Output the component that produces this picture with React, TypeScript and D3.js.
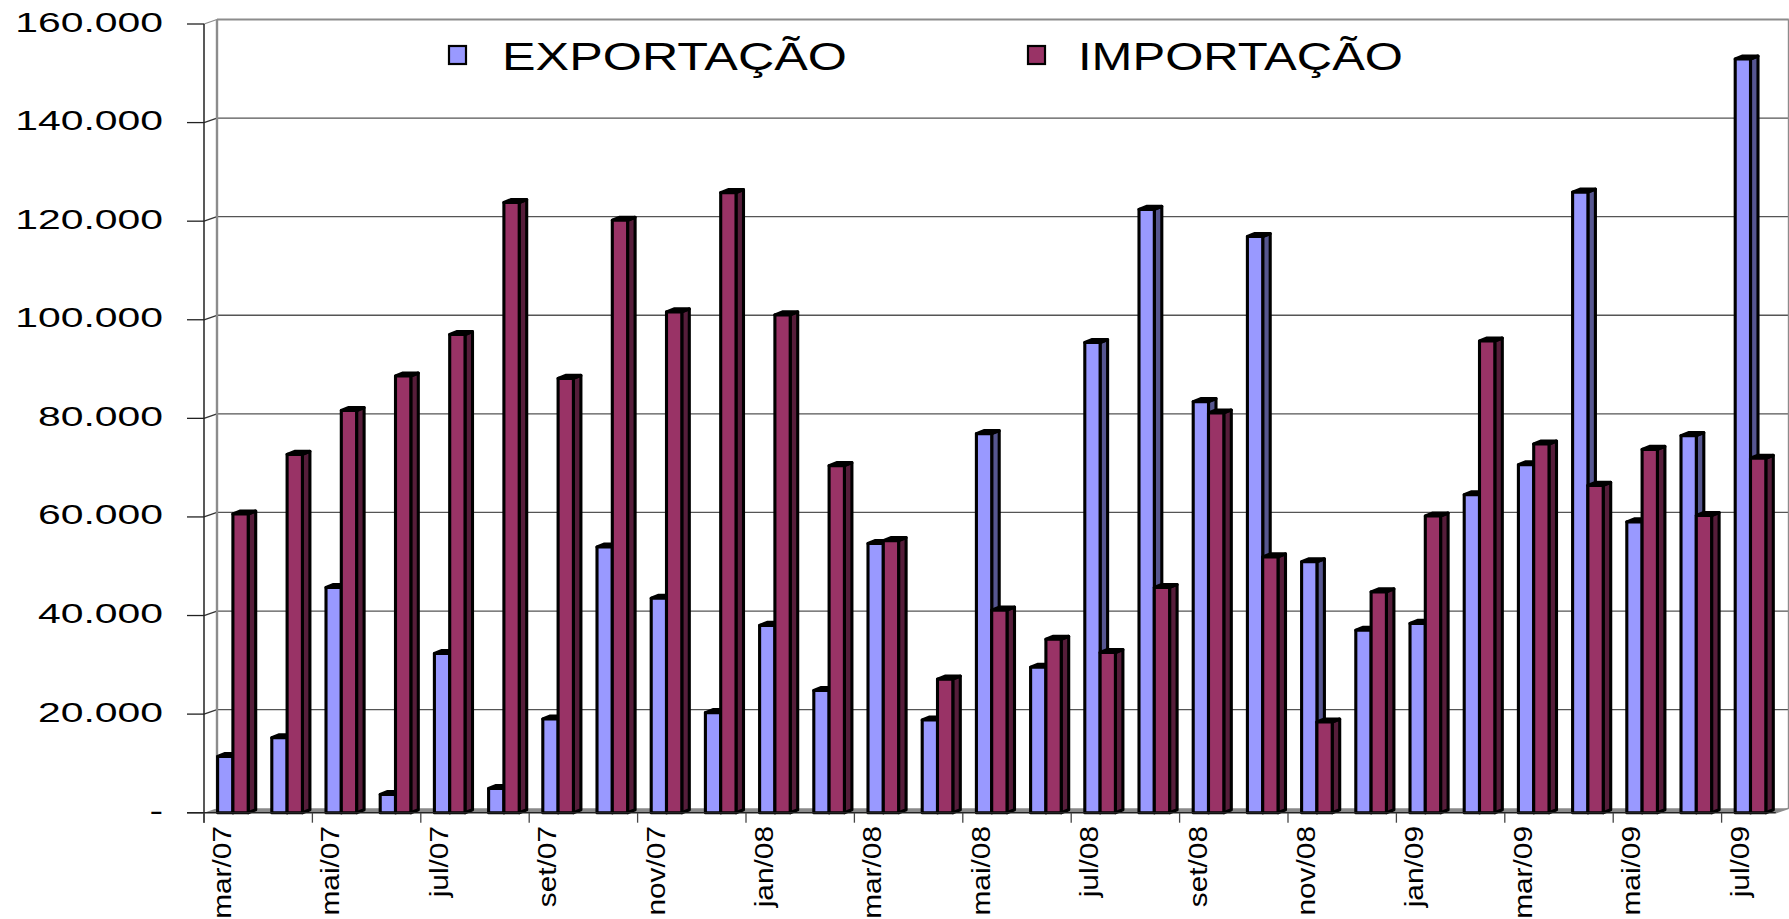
import React from "react";
import * as d3 from "d3";

const months = ["mar/07","abr/07","mai/07","jun/07","jul/07","ago/07","set/07","out/07","nov/07","dez/07","jan/08","fev/08","mar/08","abr/08","mai/08","jun/08","jul/08","ago/08","set/08","out/08","nov/08","dez/08","jan/09","fev/09","mar/09","abr/09","mai/09","jun/09","jul/09"];
const exportacao = [11400,15200,45700,3700,32300,4900,19000,53900,43500,20300,38000,24800,54600,18800,76900,29500,95400,122400,83400,116900,50900,37000,38400,64500,70600,125900,59000,76500,152900];
const importacao = [60600,72700,81600,88600,97000,123800,88100,120200,101600,125800,101000,70400,55200,27100,41100,35200,32500,45700,81100,51900,18400,44800,60200,95700,74800,66400,73700,60300,71900];
const yTicks = [0,20000,40000,60000,80000,100000,120000,140000,160000];
const yTickLabels = ["-","20.000","40.000","60.000","80.000","100.000","120.000","140.000","160.000"];
const seriesNames = ["EXPORTAÇÃO","IMPORTAÇÃO"];
const seriesColors = ["#9999FF","#993366"];

const W = 1789, H = 919;
const X0 = 204, X1 = 1775.8;
const Y0 = 812.7, Ytop = 24;
const WDX = 13, WDY = -4.5; // wall depth
const BDX = 7.5, BDY = -3; // bar depth
const FONT = "'Liberation Sans', Arial, sans-serif";

export default function App() {
  const y = d3.scaleLinear().domain([0, 160000]).range([Y0, Ytop]);
  const x = d3.scaleBand().domain(months).range([X0, X1]).paddingInner(0).paddingOuter(0);
  const bw = x.bandwidth();
  const inner = d3.scaleBand().domain(["0","1"]).range([0.251 * bw, 0.251 * bw + 30.6]).padding(0);

  const bar = (xl: number, w: number, v: number, color: string, key: string) => {
    const yt = y(v);
    const side = d3.color(color)!.darker(1.6).toString();
    const top = d3.color(color)!.darker(0.45).toString();
    const xr = xl + w;
    return (
      <g key={key} stroke="#000" strokeWidth={3.1} strokeLinejoin="round">
        <path d={`M${xr},${Y0}L${xr + BDX},${Y0 + BDY}L${xr + BDX},${yt + BDY}L${xr},${yt}Z`} fill={side} />
        <path d={`M${xl},${yt}L${xl + BDX},${yt + BDY}L${xr + BDX},${yt + BDY}L${xr},${yt}Z`} fill={top} />
        <rect x={xl} y={yt} width={w} height={Y0 - yt} fill={color} />
      </g>
    );
  };

  const labelTicks = months.map((m, i) => ({ m, i })).filter(d => d.i % 2 === 0);

  return (
    <svg width={W} height={H} style={{ position: "absolute", left: 0, top: 0, background: "#fff" }} fontFamily={FONT}>
      {/* floor */}
      <path d={`M${X0},${Y0}L${X0 + WDX},${Y0 + WDY}L${X1 + WDX},${Y0 + WDY}L${X1},${Y0}Z`} fill="#8a8a8a" />
      {/* back wall gridlines */}
      {yTicks.slice(1).map((t, i) => (
        <g key={"g" + i}>
          <line x1={X0 + WDX} x2={X1 + WDX} y1={y(t) + WDY} y2={y(t) + WDY}
            stroke={t === 160000 ? "#8c8c8c" : "#555"} strokeWidth={t === 160000 ? 2.2 : 1.3} />
          <line x1={X0} x2={X0 + WDX} y1={y(t)} y2={y(t) + WDY} stroke={t === 160000 ? "#8c8c8c" : "#333"} strokeWidth={1.3} />
        </g>
      ))}
      {/* back wall left & right edges */}
      <line x1={X0 + WDX} x2={X0 + WDX} y1={Ytop + WDY} y2={Y0 + WDY} stroke="#8c8c8c" strokeWidth={2.4} />
      <line x1={X1 + WDX} x2={X1 + WDX} y1={Ytop + WDY} y2={Y0 + WDY} stroke="#8c8c8c" strokeWidth={2} />
      <line x1={X1} x2={X1 + WDX} y1={Y0} y2={Y0 + WDY} stroke="#8c8c8c" strokeWidth={1.5} />
      {/* y axis */}
      <line x1={X0} x2={X0} y1={Ytop} y2={Y0 + 10} stroke="#222" strokeWidth={1.5} />
      {yTicks.map((t, i) => (
        <g key={"yt" + i}>
          <line x1={187} x2={X0} y1={y(t)} y2={y(t)} stroke="#222" strokeWidth={1.3} />
          <text transform={`translate(163,${y(t) + 7.5}) scale(1.46,1)`} textAnchor="end" fontSize={28} fill="#000">
            {yTickLabels[i]}
          </text>
        </g>
      ))}
      {/* bars */}
      {months.map((m, i) => (
        <g key={"b" + i}>
          {bar(x(m)! + inner("0")!, inner.bandwidth(), exportacao[i], seriesColors[0], "e" + i)}
          {bar(x(m)! + inner("1")!, inner.bandwidth(), importacao[i], seriesColors[1], "i" + i)}
        </g>
      ))}
      {/* x axis line */}
      <line x1={187} x2={X1} y1={Y0} y2={Y0} stroke="#222" strokeWidth={1.5} />
      {labelTicks.map(({ m, i }) => (
        <g key={"xt" + i}>
          <line x1={x(m)!} x2={x(m)!} y1={Y0} y2={Y0 + 10} stroke="#444" strokeWidth={1.3} />
          <text transform={`translate(${x(m)! + 27},826) rotate(-90) scale(1.17,1)`} textAnchor="end" fontSize={25.5} fill="#000">
            {m}
          </text>
        </g>
      ))}
      {/* legend */}
      <rect x={449} y={46} width={17} height={18} fill={seriesColors[0]} stroke="#000" strokeWidth={2.2} />
      <text x={502} y={70} fontSize={38} textLength={345} lengthAdjust="spacingAndGlyphs" fill="#000">{seriesNames[0]}</text>
      <rect x={1028} y={46} width={17} height={18} fill={seriesColors[1]} stroke="#000" strokeWidth={2.2} />
      <text x={1078} y={70} fontSize={38} textLength={325} lengthAdjust="spacingAndGlyphs" fill="#000">{seriesNames[1]}</text>
    </svg>
  );
}
